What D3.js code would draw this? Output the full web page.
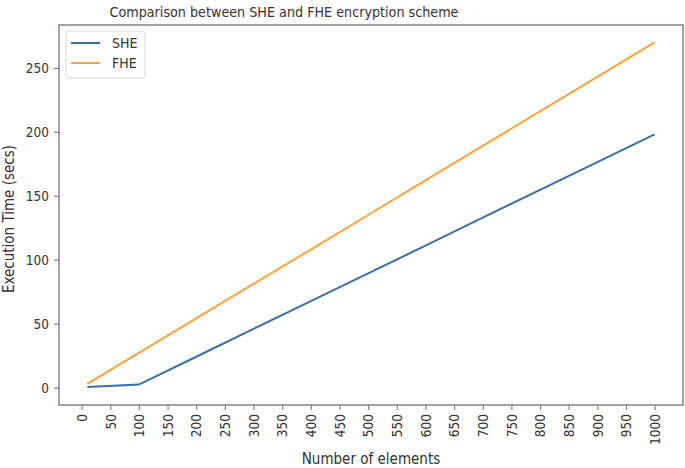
<!DOCTYPE html>
<html>
<head>
<meta charset="utf-8">
<script src="https://cdn.jsdelivr.net/npm/d3@7"></script>
<style>
  body { margin: 0; background: #fff; }
  text { font-family: "DejaVu Sans Condensed", "DejaVu Sans", sans-serif; fill: #3a3131; }
</style>
</head>
<body>
<div id="chart"></div>
<script>
// data
var elements = [10, 100, 200, 300, 400, 500, 600, 700, 800, 900, 1000];
var sheTimes = [0.5, 2.5, 24.2, 46, 67.7, 89.4, 111, 132.9, 154.6, 176.3, 198];
var fheTimes = [3, 27.3, 54.2, 81.2, 108, 135, 162, 189, 216, 243, 270];
var xTicks = d3.range(0, 1001, 50);
var yTicks = [0, 50, 100, 150, 200, 250];
var seriesNames = ["SHE", "FHE"];
var seriesColors = ["#3b6fa3", "#fba43e"];

var W = 685, H = 468;
var margin = { top: 25, right: 2, bottom: 63, left: 59 },
    width = W - margin.left - margin.right,
    height = H - margin.top - margin.bottom;

var svg = d3.select("#chart").append("svg")
    .attr("width", W)
    .attr("height", H);

var g = svg.append("g")
    .attr("transform", "translate(" + margin.left + "," + margin.top + ")");

var x = d3.scaleLinear().domain([-39.5, 1049.5]).range([0, width]);
var y = d3.scaleLinear().domain([-13.5, 283.5]).range([height, 0]);

var axisColor = "#8c8282";

// frame
g.append("rect")
    .attr("width", width).attr("height", height)
    .attr("fill", "none").attr("stroke", axisColor).attr("stroke-width", 1.5);

// x axis
var xa = g.append("g")
    .attr("transform", "translate(0," + height + ")")
    .call(d3.axisBottom(x).tickValues(xTicks).tickFormat(d3.format("d")).tickSize(5).tickPadding(4));
xa.select(".domain").remove();
xa.selectAll("line").attr("stroke", axisColor).attr("stroke-width", 1.2);
xa.selectAll("text")
    .style("font-size", "13.5px")
    .attr("transform", "rotate(-90)")
    .attr("text-anchor", "end")
    .attr("x", -9).attr("y", 0).attr("dy", "0.35em");

// y axis
var ya = g.append("g")
    .call(d3.axisLeft(y).tickValues(yTicks).tickSize(5).tickPadding(5));
ya.select(".domain").remove();
ya.selectAll("line").attr("stroke", axisColor).attr("stroke-width", 1.2);
ya.selectAll("text").style("font-size", "13.5px");

// lines
var line = d3.line()
    .x(function (d) { return x(d[0]); })
    .y(function (d) { return y(d[1]); });

[sheTimes, fheTimes].forEach(function (vals, i) {
    g.append("path")
        .datum(elements.map(function (e, j) { return [e, vals[j]]; }))
        .attr("fill", "none")
        .attr("stroke", seriesColors[i])
        .attr("stroke-width", 2)
        .attr("d", line);
});

// title and labels
svg.append("text")
    .attr("x", 284).attr("y", 17)
    .attr("text-anchor", "middle")
    .style("font-size", "14.2px")
    .text("Comparison between SHE and FHE encryption scheme");

svg.append("text")
    .attr("x", 371).attr("y", 464)
    .attr("text-anchor", "middle")
    .style("font-size", "15px")
    .text("Number of elements");

svg.append("text")
    .attr("transform", "translate(14,219) rotate(-90)")
    .attr("text-anchor", "middle")
    .style("font-size", "15px")
    .text("Execution Time (secs)");

// legend
var lg = g.append("g").attr("transform", "translate(7,6)");
lg.append("rect")
    .attr("width", 79).attr("height", 47).attr("rx", 3)
    .attr("fill", "#fff").attr("stroke", "#ddd6d6");
seriesNames.forEach(function (name, i) {
    lg.append("line")
        .attr("x1", 5).attr("x2", 34)
        .attr("y1", 12 + i * 20).attr("y2", 12 + i * 20)
        .attr("stroke", seriesColors[i]).attr("stroke-width", 2);
    lg.append("text")
        .attr("x", 46).attr("y", 12 + i * 20).attr("dy", "0.35em")
        .style("font-size", "14px")
        .text(name);
});
</script>
</body>
</html>
